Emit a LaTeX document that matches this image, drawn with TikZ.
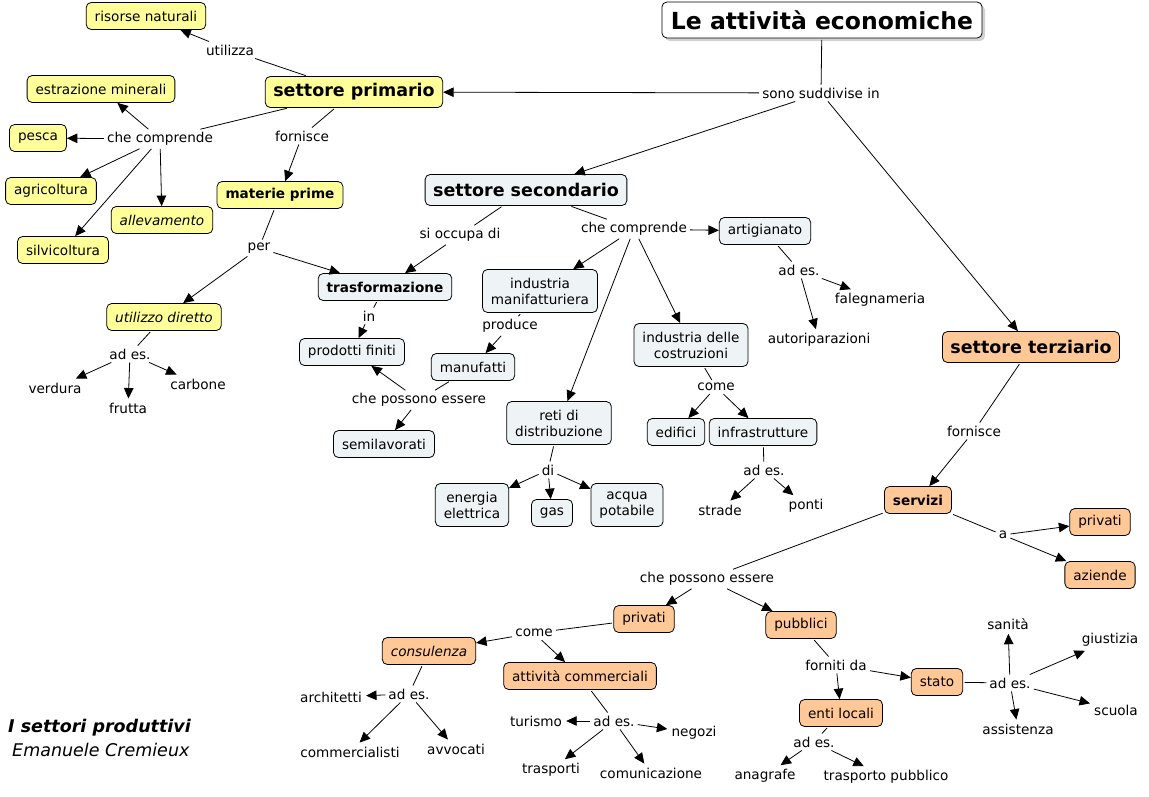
\documentclass[tikz,border=0pt]{standalone}
\usepackage{fontspec}
\setmainfont{DejaVu Sans}
\usetikzlibrary{arrows.meta,shadows}
\definecolor{cmy}{RGB}{255,255,153}
\definecolor{cmb}{RGB}{238,243,245}
\definecolor{cmo}{RGB}{255,200,150}
\newcommand\cmfn{\fontsize{13.6}{16}\selectfont}
\newcommand\cmfbig{\fontsize{17.5}{20}\selectfont\bfseries}
\newcommand\cmftitle{\fontsize{23.5}{26}\selectfont\bfseries}
\begin{document}
\begin{tikzpicture}[x=1pt,y=-1pt,
  concept/.style={draw, rounded corners=5pt, line width=0.8pt, font=\cmfn, inner xsep=8.5pt, inner ysep=0pt, minimum height=27pt, align=center},
  big/.style={font=\cmfbig, minimum height=31pt, inner xsep=8pt},
  two/.style={minimum height=43pt},
  yc/.style={concept, fill=cmy},
  bc/.style={concept, fill=cmb},
  oc/.style={concept, fill=cmo},
  lp/.style={font=\cmfn, inner sep=3pt},
  leaf/.style={font=\cmfn, inner sep=4pt},
  link/.style={line width=0.8pt, shorten <=1.5pt},
  arr/.style={line width=0.8pt, -{Triangle[length=10.5pt,width=9.5pt]}}
]
\useasboundingbox (0,0) rectangle (1149,796);
% title
\node[concept, font=\cmftitle, minimum height=36pt, inner xsep=9pt, fill=white, drop shadow={shadow xshift=3pt, shadow yshift=-3pt, fill=gray!70}] (title) at (822,20) {Le attività economiche};
% sectors
\node[yc, big] (prim) at (354,92) {settore primario};
\node[bc, big] (sec) at (526,190) {settore secondario};
\node[oc, big] (ter) at (1031,347) {settore terziario};
% primary
\node[yc] (risorse) at (146,16) {risorse naturali};
\node[yc] (estr) at (101,89) {estrazione minerali};
\node[yc] (pesca) at (38,138) {pesca};
\node[yc] (agri) at (51,191) {agricoltura};
\node[yc, font=\cmfn\itshape] (alle) at (162,220) {allevamento};
\node[yc] (silvi) at (63,250) {silvicoltura};
\node[yc, font=\cmfn\bfseries] (mat) at (280,195) {materie prime};
\node[yc, font=\cmfn\itshape] (util) at (164,317) {utilizzo diretto};
% secondary
\node[bc, font=\cmfn\bfseries] (trasf) at (385,287) {trasformazione};
\node[bc] (prodf) at (352,352) {prodotti finiti};
\node[bc, two] (indman) at (540,291) {industria\\manifatturiera};
\node[bc] (manuf) at (473,367) {manufatti};
\node[bc] (semil) at (384,444) {semilavorati};
\node[bc] (artig) at (765,231) {artigianato};
\node[bc, two] (indcos) at (691,345) {industria delle\\costruzioni};
\node[bc, two] (reti) at (559,423) {reti di\\distribuzione};
\node[bc] (edif) at (676,432) {edifici};
\node[bc] (infra) at (763,432) {infrastrutture};
\node[bc, two] (energia) at (472,505) {energia\\elettrica};
\node[bc] (gas) at (552,513) {gas};
\node[bc, two] (acqua) at (627,505) {acqua\\potabile};
% tertiary
\node[oc, font=\cmfn\bfseries] (servizi) at (918,500) {servizi};
\node[oc] (privA) at (1100,522) {privati};
\node[oc] (aziende) at (1100,575) {aziende};
\node[oc] (privB) at (644,619) {privati};
\node[oc] (pubbl) at (801,625) {pubblici};
\node[oc, font=\cmfn\itshape] (consul) at (429,651) {consulenza};
\node[oc] (attcom) at (580,676) {attività commerciali};
\node[oc] (stato) at (937,682) {stato};
\node[oc] (enti) at (841,713) {enti locali};
% linking phrases
\node[lp] (l_util) at (230,50) {utilizza};
\node[lp] (l_sono) at (821,93) {sono suddivise in};
\node[lp] (l_cc1) at (160,139) {che comprende};
\node[lp] (l_forn1) at (302,136) {fornisce};
\node[lp] (l_per) at (259,248) {per};
\node[lp] (l_adesU) at (130,354) {ad es.};
\node[lp] (l_occ) at (460,235) {si occupa di};
\node[lp] (l_cc2) at (634,229) {che comprende};
\node[lp] (l_in) at (369,316) {in};
\node[lp] (l_prod) at (510,326) {produce};
\node[lp] (l_cpe1) at (419,400) {che possono essere};
\node[lp] (l_adesA) at (799,270) {ad es.};
\node[lp] (l_come1) at (716,387) {come};
\node[lp] (l_adesI) at (764,470) {ad es.};
\node[lp] (l_di) at (548,470) {di};
\node[lp] (l_forn2) at (974,431) {fornisce};
\node[lp] (l_a) at (1003,535) {a};
\node[lp] (l_cpe2) at (707,579) {che possono essere};
\node[lp] (l_come2) at (534,633) {come};
\node[lp] (l_adesC) at (409,694) {ad es.};
\node[lp] (l_adesAC) at (614,721) {ad es.};
\node[lp] (l_fda) at (836,665) {forniti da};
\node[lp] (l_adesS) at (1010,683) {ad es.};
\node[lp] (l_adesE) at (814,742) {ad es.};
% leaves
\node[leaf] (faleg) at (880,300) {falegnameria};
\node[leaf] (autor) at (819,340) {autoriparazioni};
\node[leaf] (strade) at (720,510) {strade};
\node[leaf] (ponti) at (806,506) {ponti};
\node[leaf] (verdura) at (55,388) {verdura};
\node[leaf] (frutta) at (128,408) {frutta};
\node[leaf] (carbone) at (198,384) {carbone};
\node[leaf] (archit) at (331,697) {architetti};
\node[leaf] (commerc) at (350,752) {commercialisti};
\node[leaf] (avvoc) at (456,749) {avvocati};
\node[leaf] (turismo) at (536,721) {turismo};
\node[leaf] (negozi) at (694,733) {negozi};
\node[leaf] (traspo) at (551,770) {trasporti};
\node[leaf] (comun) at (651,773) {comunicazione};
\node[leaf] (anagr) at (765,776) {anagrafe};
\node[leaf] (trpub) at (886,777) {trasporto pubblico};
\node[leaf] (sanita) at (1008,624) {sanità};
\node[leaf] (giust) at (1110,640) {giustizia};
\node[leaf] (scuola) at (1116,710) {scuola};
\node[leaf] (assist) at (1018,729) {assistenza};
% footer
\node[anchor=west, inner sep=0pt, font=\fontsize{17.5}{20}\selectfont\bfseries\itshape] (foot1) at (8,728) {I settori produttivi};
\node[anchor=west, inner sep=0pt, font=\fontsize{17.5}{20}\selectfont\itshape] (foot2) at (12,750) {Emanuele Cremieux};
% connectors
\draw[link] (title) -- (l_sono);
\draw[arr] (l_sono) -- (prim);
\draw[arr] (l_sono) -- (sec);
\draw[arr] (l_sono) -- (ter);
\draw[link] (prim) -- (l_util);
\draw[arr] (l_util) -- (risorse);
\draw[link] (prim) -- (l_cc1);
\draw[arr] (l_cc1) -- (estr);
\draw[arr] (l_cc1) -- (pesca);
\draw[arr] (l_cc1) -- (agri);
\draw[arr] (l_cc1) -- (silvi);
\draw[arr] (l_cc1) -- (alle);
\draw[link] (prim) -- (l_forn1);
\draw[arr] (l_forn1) -- (mat);
\draw[link] (mat) -- (l_per);
\draw[arr] (l_per) -- (trasf);
\draw[arr] (l_per) -- (util);
\draw[link] (util) -- (l_adesU);
\draw[arr] (l_adesU) -- (verdura);
\draw[arr] (l_adesU) -- (frutta);
\draw[arr] (l_adesU) -- (carbone);
\draw[link] (sec) -- (l_occ);
\draw[arr] (l_occ) -- (trasf);
\draw[link] (sec) -- (l_cc2);
\draw[arr] (l_cc2) -- (artig);
\draw[arr] (l_cc2) -- (indman);
\draw[arr] (l_cc2) -- (reti);
\draw[arr] (l_cc2) -- (indcos);
\draw[link] (trasf) -- (l_in);
\draw[arr] (l_in) -- (prodf);
\draw[link] (indman) -- (l_prod);
\draw[arr] (l_prod) -- (manuf);
\draw[link] (manuf) -- (l_cpe1);
\draw[arr] (l_cpe1) -- (prodf);
\draw[arr] (l_cpe1) -- (semil);
\draw[link] (artig) -- (l_adesA);
\draw[arr] (l_adesA) -- (faleg);
\draw[arr] (l_adesA) -- (autor);
\draw[link] (indcos) -- (l_come1);
\draw[arr] (l_come1) -- (edif);
\draw[arr] (l_come1) -- (infra);
\draw[link] (infra) -- (l_adesI);
\draw[arr] (l_adesI) -- (strade);
\draw[arr] (l_adesI) -- (ponti);
\draw[link] (reti) -- (l_di);
\draw[arr] (l_di) -- (energia);
\draw[arr] (l_di) -- (gas);
\draw[arr] (l_di) -- (acqua);
\draw[link] (ter) -- (l_forn2);
\draw[arr] (l_forn2) -- (servizi);
\draw[link] (servizi) -- (l_a);
\draw[arr] (l_a) -- (privA);
\draw[arr] (l_a) -- (aziende);
\draw[link] (servizi) -- (l_cpe2);
\draw[arr] (l_cpe2) -- (privB);
\draw[arr] (l_cpe2) -- (pubbl);
\draw[link] (privB) -- (l_come2);
\draw[arr] (l_come2) -- (consul);
\draw[arr] (l_come2) -- (attcom);
\draw[link] (consul) -- (l_adesC);
\draw[arr] (l_adesC) -- (archit);
\draw[arr] (l_adesC) -- (commerc);
\draw[arr] (l_adesC) -- (avvoc);
\draw[link] (attcom) -- (l_adesAC);
\draw[arr] (l_adesAC) -- (turismo);
\draw[arr] (l_adesAC) -- (negozi);
\draw[arr] (l_adesAC) -- (traspo);
\draw[arr] (l_adesAC) -- (comun);
\draw[link] (pubbl) -- (l_fda);
\draw[arr] (l_fda) -- (stato);
\draw[arr] (l_fda) -- (enti);
\draw[link] (stato) -- (l_adesS);
\draw[arr] (l_adesS) -- (sanita);
\draw[arr] (l_adesS) -- (giust);
\draw[arr] (l_adesS) -- (scuola);
\draw[arr] (l_adesS) -- (assist);
\draw[link] (enti) -- (l_adesE);
\draw[arr] (l_adesE) -- (anagr);
\draw[arr] (l_adesE) -- (trpub);
\end{tikzpicture}
\end{document}
